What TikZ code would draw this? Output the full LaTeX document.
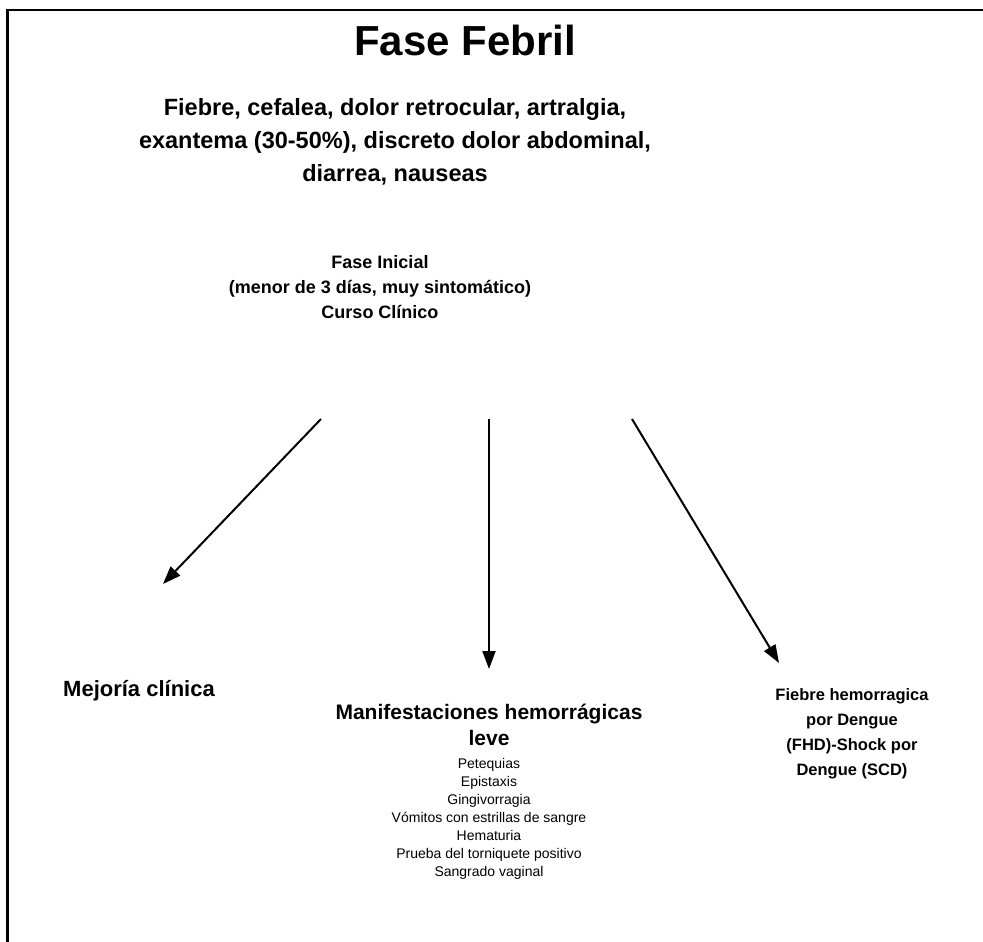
\documentclass[tikz,border=0pt]{standalone}
\usepackage{fontspec}
\setmainfont{Liberation Sans}
\usetikzlibrary{arrows.meta}

\begin{document}
\begin{tikzpicture}[x=1pt,y=-1pt,
    heading/.style={align=center,inner sep=0pt,font=\bfseries\fontsize{17.5}{25}\selectfont},
    listing/.style={align=center,inner sep=0pt,font=\fontsize{14}{18}\selectfont},
    flecha/.style={-{Triangle[length=18pt,width=13pt]},line width=2pt}]
  \useasboundingbox (0,0) rectangle (983,942);
  % marco
  \draw[line width=2.5pt] (7.5,942) -- (7.5,10) -- (983,10);

  \node[inner sep=0pt,font=\bfseries\fontsize{42}{50}\selectfont] (titulo) at (465,40) {Fase Febril};
  \node[align=center,inner sep=0pt,font=\bfseries\fontsize{23.5}{33}\selectfont] (sintomas) at (395,142)
    {Fiebre, cefalea, dolor retrocular, artralgia,\\ exantema (30-50\%), discreto dolor abdominal,\\ diarrea, nauseas};
  \node[heading,font=\bfseries\fontsize{18}{25}\selectfont] (inicial) at (380,287)
    {Fase Inicial\\ (menor de 3 días, muy sintomático)\\ Curso Clínico};

  \node[heading,font=\bfseries\fontsize{22}{25}\selectfont] (mejoria) at (139,691) {Mejoría clínica};
  \node[heading,font=\bfseries\fontsize{21}{26}\selectfont] (manif) at (489,725) {Manifestaciones hemorrágicas\\ leve};
  \node[heading,font=\bfseries\fontsize{16.5}{25}\selectfont] (fhd) at (852,734)
    {Fiebre hemorragica\\ por Dengue\\ (FHD)-Shock por\\ Dengue (SCD)};
  \node[listing] (lista) at (489,819)
    {Petequias\\ Epistaxis\\ Gingivorragia\\ Vómitos con estrillas de sangre\\ Hematuria\\ Prueba del torniquete positivo\\ Sangrado vaginal};

  \coordinate (o1) at (321,419);
  \coordinate (o2) at (489,419);
  \coordinate (o3) at (632,419);
  \coordinate (d1) at (163,584);
  \coordinate (d2) at (489,669);
  \coordinate (d3) at (779,663);
  \draw[flecha] (o1) -- (d1);
  \draw[flecha] (o2) -- (d2);
  \draw[flecha] (o3) -- (d3);
\end{tikzpicture}
\end{document}
